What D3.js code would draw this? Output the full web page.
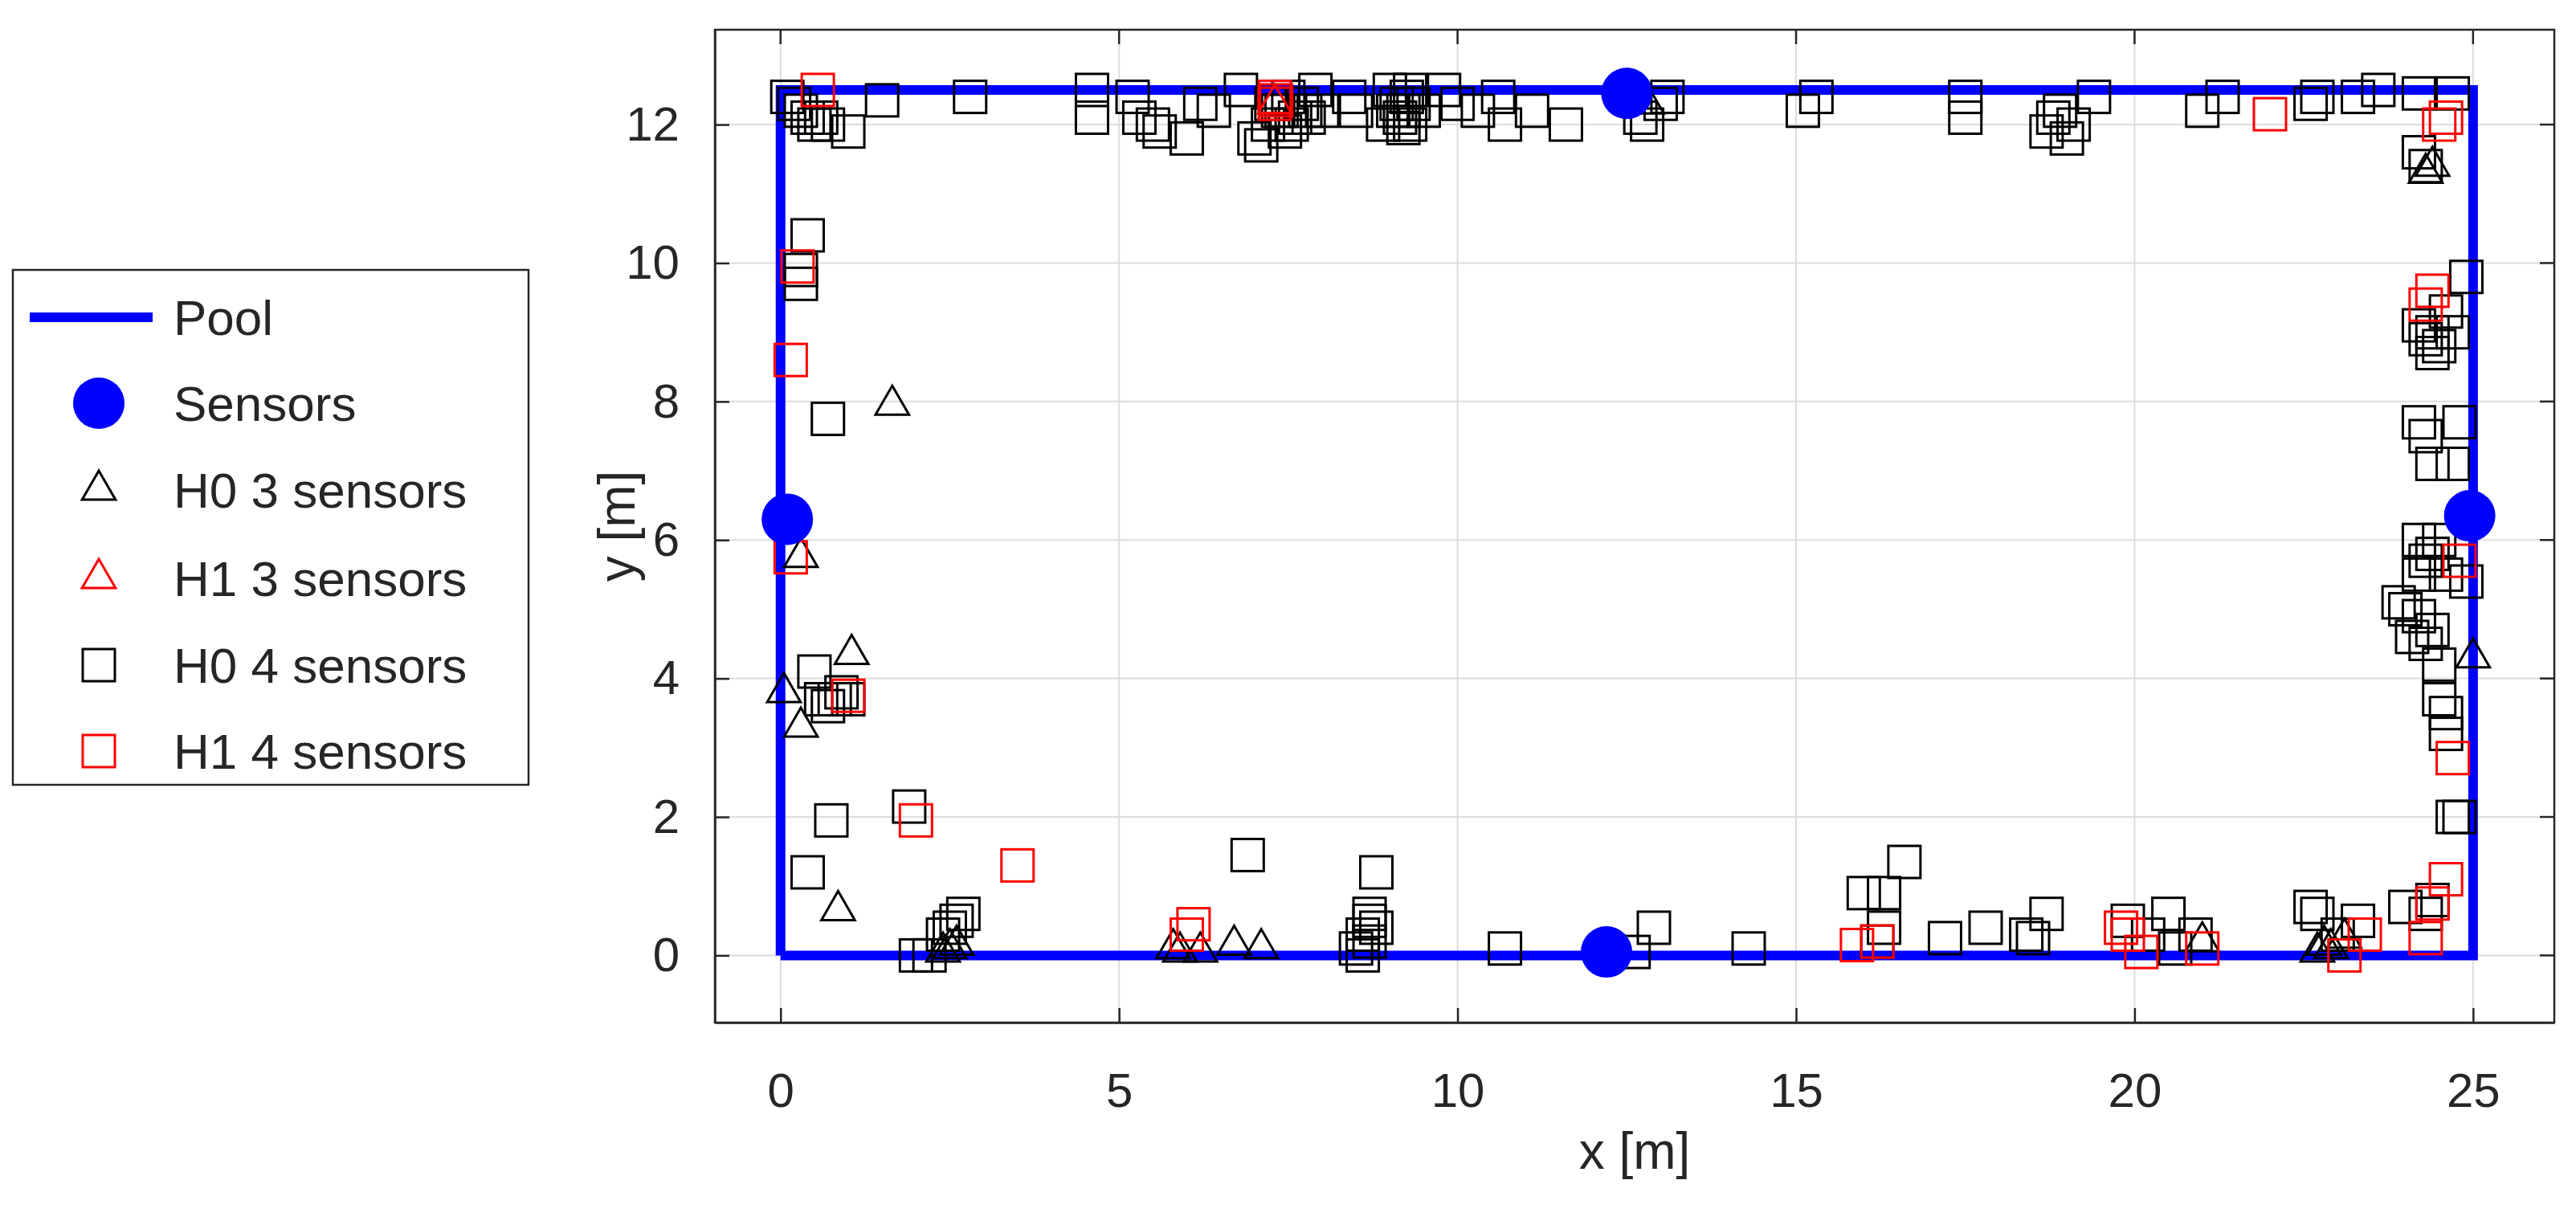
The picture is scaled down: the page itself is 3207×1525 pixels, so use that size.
<!DOCTYPE html>
<html>
<head>
<meta charset="UTF-8">
<script src="https://cdn.jsdelivr.net/npm/d3@7"></script>
<style>
  body { margin: 0; background: #fff; }
  text { font-family: "Liberation Sans", Arial, sans-serif; fill: #262626; }
</style>
</head>
<body>
<div id="chart"></div>
<script>
var width = 3207, height = 1525;
var margin = {left: 890, top: 37, right: 27, bottom: 252};

var xTicks = [0, 5, 10, 15, 20, 25];
var yTicks = [0, 2, 4, 6, 8, 10, 12];
var pool = [[0, 0], [25, 0], [25, 12.5], [0, 12.5], [0, 0]];
var sensors = [[0.1, 6.3], [12.5, 12.45], [12.2, 0.05], [24.95, 6.35]];

var h0tri = [[1.65,7.95],[0.3,5.75],[0.05,3.8],[0.3,3.3],[1.05,4.35],[0.85,0.65],[2.5,0.1],[2.6,0.15],[2.4,0.05],
  [5.8,0.1],[5.9,0.05],[6.2,0.05],[6.7,0.15],[7.1,0.1],[22.8,0.15],[22.9,0.1],[22.7,0.05],[23.1,0.25],[21.0,0.2],
  [24.3,11.3],[24.4,11.4],[25.0,4.3],[12.8,12.3]];
var h1tri = [[7.3,12.3]];
var h0sq = [[0.1,12.4],[0.2,12.3],[0.3,12.2],[0.4,12.1],[0.5,12.0],[0.6,12.1],[0.7,12.0],[1.0,11.9],[1.5,12.35],[2.8,12.4],
  [4.6,12.5],[4.6,12.1],[5.2,12.4],[5.3,12.1],[5.5,12.0],[5.6,11.9],[6.0,11.8],[6.2,12.3],[6.4,12.2],[6.8,12.5],[7.0,11.8],
  [7.1,11.7],[7.2,12.0],[7.25,12.3],[7.35,12.2],[7.4,12.2],[7.45,11.9],[7.5,12.4],[7.55,12.0],[7.6,12.1],[7.7,12.3],[7.75,12.2],
  [7.8,12.1],[7.9,12.5],[8.0,12.2],[8.4,12.4],[8.5,12.2],[8.9,12.0],[9.0,12.5],[9.05,12.2],[9.1,12.3],[9.15,12.1],[9.2,12.2],
  [9.25,12.4],[9.3,12.0],[9.35,12.3],[9.2,11.95],[9.3,12.5],[9.5,12.2],[9.8,12.5],[10.0,12.3],
  [10.3,12.2],[10.6,12.4],[10.7,12.0],[11.1,12.2],[11.6,12.0],[12.7,12.1],[12.8,12.0],[13.0,12.3],[13.1,12.4],[15.1,12.2],
  [15.3,12.4],[17.5,12.4],[17.5,12.1],[18.7,11.9],[18.8,12.1],[18.9,12.2],[19.0,11.8],[19.1,12.0],[19.4,12.4],[21.0,12.2],
  [21.3,12.4],[22.6,12.3],[22.7,12.4],[23.3,12.4],[23.6,12.5],[24.2,12.45],[24.7,12.45],[24.2,11.6],[24.3,11.4],
  [24.2,9.1],[24.3,8.9],[24.4,9.0],[24.5,8.8],[24.6,9.3],[24.7,9.0],[24.9,9.8],[24.4,8.7],[24.2,7.7],[24.3,7.5],[24.8,7.7],
  [24.4,7.1],[24.7,7.1],[24.2,6.0],[24.3,5.7],[24.4,5.8],[24.5,6.0],[24.2,5.5],[24.6,5.5],[24.9,5.4],[23.9,5.1],[24.0,5.0],
  [24.1,4.6],[24.3,4.5],[24.4,4.7],[24.2,4.9],[24.5,4.2],[24.5,3.7],[24.6,3.5],[24.6,3.2],[24.7,2.0],[24.8,2.0],
  [22.6,0.7],[22.7,0.6],[23.0,0.3],[23.3,0.5],[24.0,0.7],[24.3,0.6],[24.4,0.8],[20.5,0.6],[20.2,0.3],[20.6,0.1],[20.9,0.3],
  [19.9,0.5],[18.7,0.6],[18.4,0.3],[18.5,0.25],[17.8,0.4],[17.2,0.25],[16.6,1.35],[16.3,0.9],[16.0,0.9],[16.3,0.4],[16.2,0.2],
  [14.3,0.1],[12.9,0.4],[12.6,0.05],[10.7,0.1],[8.8,1.2],[8.7,0.6],[8.7,0.5],[8.6,0.3],[8.7,0.2],[8.5,0.1],[8.6,0.0],[8.8,0.4],
  [6.9,1.45],[2.7,0.6],[2.6,0.5],[2.5,0.4],[2.4,0.3],[2.2,0.0],[2.0,0.0],
  [0.4,10.4],[0.3,9.9],[0.3,9.7],[0.7,7.75],[0.5,4.1],[0.6,3.7],[0.7,3.6],[0.8,3.7],[0.9,3.8],[1.0,3.7],[0.75,1.95],[1.9,2.15],[0.4,1.2]];
var h1sq = [[0.55,12.5],[0.25,9.95],[0.15,8.6],[0.15,5.75],[1.0,3.75],[2.0,1.95],[3.5,1.3],[6.1,0.45],[6.0,0.3],[7.3,12.3],
  [7.3,12.4],[7.32,12.35],[15.9,0.15],[16.2,0.2],[19.8,0.4],[19.9,0.3],[20.1,0.05],[21.0,0.1],[22.0,12.15],[23.1,0.0],[23.4,0.3],
  [24.5,12.0],[24.6,12.1],[24.4,9.6],[24.3,9.4],[24.8,5.7],[24.7,2.85],[24.6,1.1],[24.4,0.75],[24.3,0.25]];

var svg = d3.select("#chart").append("svg").attr("width", width).attr("height", height);

var x = d3.scaleLinear().domain([-0.97, 26.2]).range([margin.left, width - margin.right]);
var y = d3.scaleLinear().domain([-0.97, 13.37]).range([height - margin.bottom, margin.top]);

// grid
svg.append("g").selectAll("line").data(xTicks).enter().append("line")
  .attr("x1", d => x(d)).attr("x2", d => x(d)).attr("y1", y.range()[0]).attr("y2", y.range()[1])
  .attr("stroke", "#dcdcdc").attr("stroke-width", 2);
svg.append("g").selectAll("line").data(yTicks).enter().append("line")
  .attr("y1", d => y(d)).attr("y2", d => y(d)).attr("x1", x.range()[0]).attr("x2", x.range()[1])
  .attr("stroke", "#dcdcdc").attr("stroke-width", 2);

// axes
var xAxis = svg.append("g").attr("transform", "translate(0," + y.range()[0] + ")")
  .call(d3.axisBottom(x).tickValues(xTicks).tickSizeInner(-18).tickSizeOuter(0).tickPadding(62));
var yAxis = svg.append("g").attr("transform", "translate(" + x.range()[0] + ",0)")
  .call(d3.axisLeft(y).tickValues(yTicks).tickSizeInner(-18).tickSizeOuter(0).tickPadding(44));
[xAxis, yAxis].forEach(function (a) {
  a.selectAll("path,line").attr("stroke", "#262626").attr("stroke-width", 2.5);
  a.selectAll("text").style("font-size", "60px").style("font-family", "Liberation Sans, Arial").attr("fill", "#262626");
});
svg.append("rect").attr("x", x.range()[0]).attr("y", y.range()[1])
  .attr("width", x.range()[1] - x.range()[0]).attr("height", y.range()[0] - y.range()[1])
  .attr("fill", "none").attr("stroke", "#262626").attr("stroke-width", 2.5);
// top/right ticks
svg.append("g").selectAll("line").data(xTicks).enter().append("line")
  .attr("x1", d => x(d)).attr("x2", d => x(d)).attr("y1", y.range()[1]).attr("y2", y.range()[1] + 18)
  .attr("stroke", "#262626").attr("stroke-width", 2.5);
svg.append("g").selectAll("line").data(yTicks).enter().append("line")
  .attr("y1", d => y(d)).attr("y2", d => y(d)).attr("x1", x.range()[1]).attr("x2", x.range()[1] - 18)
  .attr("stroke", "#262626").attr("stroke-width", 2.5);

svg.append("text").attr("x", (x.range()[0] + x.range()[1]) / 2).attr("y", 1455)
  .attr("text-anchor", "middle").style("font-size", "64px").text("x [m]");
svg.append("text").attr("transform", "translate(768," + ((y.range()[0] + y.range()[1]) / 2) + ") rotate(-90)")
  .attr("text-anchor", "middle").attr("dy", "0.35em").style("font-size", "64px").text("y [m]");

// pool
svg.append("path").datum(pool)
  .attr("d", d3.line().x(d => x(d[0])).y(d => y(d[1])))
  .attr("fill", "none").attr("stroke", "#0000ff").attr("stroke-width", 12);

var sq = 40;
function squares(data, color) {
  svg.append("g").selectAll("rect").data(data).enter().append("rect")
    .attr("x", d => x(d[0]) - sq / 2).attr("y", d => y(d[1]) - sq / 2)
    .attr("width", sq).attr("height", sq)
    .attr("fill", "none").attr("stroke", color).attr("stroke-width", 3);
}
var tri = d3.symbol().type(d3.symbolTriangle).size(750);
function triangles(data, color) {
  svg.append("g").selectAll("path").data(data).enter().append("path")
    .attr("d", tri).attr("transform", d => "translate(" + x(d[0]) + "," + y(d[1]) + ")")
    .attr("fill", "none").attr("stroke", color).attr("stroke-width", 3);
}
triangles(h0tri, "#000");
squares(h0sq, "#000");
triangles(h1tri, "#ff0000");
squares(h1sq, "#ff0000");

svg.append("g").selectAll("circle").data(sensors).enter().append("circle")
  .attr("cx", d => x(d[0])).attr("cy", d => y(d[1])).attr("r", 32).attr("fill", "#0000ff");

// legend
var lg = svg.append("g");
lg.append("rect").attr("x", 16).attr("y", 336).attr("width", 642).attr("height", 641)
  .attr("fill", "#fff").attr("stroke", "#262626").attr("stroke-width", 2.5);
var items = ["Pool", "Sensors", "H0 3 sensors", "H1 3 sensors", "H0 4 sensors", "H1 4 sensors"];
var ly = [395, 502, 610, 720, 828, 935];
items.forEach(function (t, i) {
  var cy = ly[i];
  if (i === 0) lg.append("line").attr("x1", 37).attr("x2", 190).attr("y1", cy).attr("y2", cy)
    .attr("stroke", "#0000ff").attr("stroke-width", 12);
  if (i === 1) lg.append("circle").attr("cx", 123).attr("cy", cy).attr("r", 32).attr("fill", "#0000ff");
  if (i === 2 || i === 3) lg.append("path").attr("d", tri).attr("transform", "translate(123," + cy + ")")
    .attr("fill", "none").attr("stroke", i === 2 ? "#000" : "#ff0000").attr("stroke-width", 3);
  if (i === 4 || i === 5) lg.append("rect").attr("x", 123 - sq / 2).attr("y", cy - sq / 2).attr("width", sq).attr("height", sq)
    .attr("fill", "none").attr("stroke", i === 4 ? "#000" : "#ff0000").attr("stroke-width", 3);
  lg.append("text").attr("x", 216).attr("y", cy).attr("dy", "0.36em").style("font-size", "62px").text(t);
});
</script>
</body>
</html>
